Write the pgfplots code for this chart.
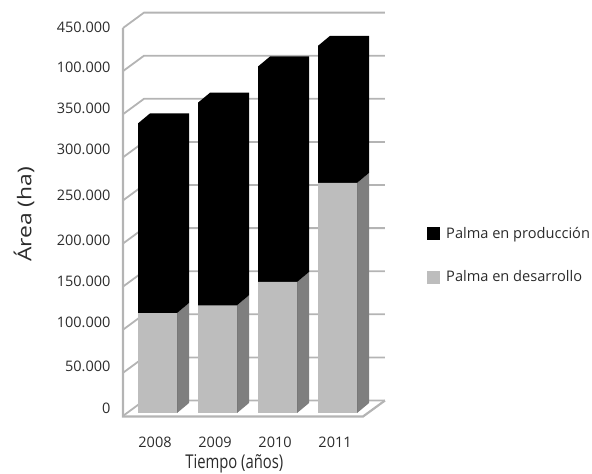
\documentclass[border=0pt]{standalone}
\usepackage{fontspec}
\setmainfont{Open Sans}
\usepackage{pgfplots}
\usepackage{pgfplotstable}
\pgfplotsset{compat=1.18}
\definecolor{wallgrey}{HTML}{B4B4B4}
\definecolor{barlight}{HTML}{BDBDBD}
\definecolor{barside}{HTML}{7F7F7F}
\definecolor{textgrey}{HTML}{2B2B2B}

% total = desarrollo + produccion
\pgfplotstableread{
pos anio desarrollo total
0 2008 116000 336000
1 2009 125000 360000
2 2010 152000 402000
3 2011 267000 426000
}\areatable

\begin{document}
\begin{tikzpicture}[x=1pt,y=1pt]
  \useasboundingbox (0,0) rectangle (592,474);
  \begin{axis}[
    at={(123pt,54pt)}, anchor=south west,
    scale only axis,
    width=262pt, height=415pt,
    xmin=-0.575, xmax=3.79,
    ymin=-8121, ymax=473329,
    clip=false,
    axis line style={draw=none},
    tick style={draw=none},
    scaled ticks=false,
    xtick={0,1,2,3},
    xticklabels={2008,2009,2010,2011},
    xticklabel style={font=\fontsize{14.5}{16}\selectfont, text=textgrey, yshift=-13pt, xshift=-2.5pt},
    % label positions follow the reference, slightly off the wall lines
    ytick={5500,54500,104800,152300,200700,252100,305500,353000,400600,447800},
    yticklabels={0,50.000,100.000,150.000,200.000,250.000,300.000,350.000,100.000,450.000},
    yticklabel style={font=\fontsize{14.5}{16}\selectfont, text=textgrey, anchor=east, xshift=-9pt},
    xlabel={\scalebox{0.78}[1]{Tiempo (años)}},
    ylabel={\scalebox{1.2}[1]{Área (ha)}},
    xlabel style={font=\fontsize{19}{21}\selectfont, text=textgrey, at={(axis cs:1.28,-8121)}, anchor=north, yshift=-31pt},
    ylabel style={font=\fontsize{19}{21}\selectfont, text=textgrey, at={(axis description cs:-0.378,0.495)}, anchor=center},
    legend style={at={(axis cs:4.49,183000)}, anchor=west, draw=none, fill=none,
      inner sep=0pt, font=\fontsize{14.6}{16}\selectfont, text=textgrey, row sep=27pt},
    legend cell align=left,
    legend image code/.code={\fill[draw=none,#1] (0pt,-6.5pt) rectangle (13pt,6.5pt);},
    no markers,
  ]
  % walls: left wall diagonal, back wall line
  \addplot[wallgrey, line width=1.8pt, forget plot] coordinates {(-0.575,-3400) (-0.225,14500) (3.79,14500)};
  \addplot[wallgrey, line width=1.8pt, forget plot] coordinates {(-0.575,46600) (-0.225,64500) (3.79,64500)};
  \addplot[wallgrey, line width=1.8pt, forget plot] coordinates {(-0.575,96600) (-0.225,114500) (3.79,114500)};
  \addplot[wallgrey, line width=1.8pt, forget plot] coordinates {(-0.575,146600) (-0.225,164500) (3.79,164500)};
  \addplot[wallgrey, line width=1.8pt, forget plot] coordinates {(-0.575,196600) (-0.225,214500) (3.79,214500)};
  \addplot[wallgrey, line width=1.8pt, forget plot] coordinates {(-0.575,246600) (-0.225,264500) (3.79,264500)};
  \addplot[wallgrey, line width=1.8pt, forget plot] coordinates {(-0.575,296600) (-0.225,314500) (3.79,314500)};
  \addplot[wallgrey, line width=1.8pt, forget plot] coordinates {(-0.575,346600) (-0.225,364500) (3.79,364500)};
  \addplot[wallgrey, line width=1.8pt, forget plot] coordinates {(-0.575,396600) (-0.225,414500) (3.79,414500)};
  \addplot[wallgrey, line width=1.8pt, forget plot] coordinates {(-0.575,446600) (-0.225,464500) (3.79,464500)};
  % front edge and floor
  \addplot[wallgrey, line width=2.2pt, forget plot] coordinates {(-0.575,446600) (-0.575,-4000) (3.425,-4000) (3.79,14500)};

  % bar sides and tops
  \addplot[draw=none, fill=barside, forget plot] coordinates {(0.325,0) (0.525,11600) (0.525,127600) (0.325,116000)};
  \addplot[draw=none, fill=barside, forget plot] coordinates {(1.325,0) (1.525,11600) (1.525,136600) (1.325,125000)};
  \addplot[draw=none, fill=barside, forget plot] coordinates {(2.325,0) (2.525,11600) (2.525,163600) (2.325,152000)};
  \addplot[draw=none, fill=barside, forget plot] coordinates {(3.325,0) (3.525,11600) (3.525,278600) (3.325,267000)};
  \addplot[draw=none, fill=black, forget plot] coordinates {(0.325,116000) (0.525,127600) (0.525,347600) (-0.125,347600) (-0.325,336000)};
  \addplot[draw=none, fill=black, forget plot] coordinates {(1.325,125000) (1.525,136600) (1.525,371600) (0.875,371600) (0.675,360000)};
  \addplot[draw=none, fill=black, forget plot] coordinates {(2.325,152000) (2.525,163600) (2.525,413600) (1.875,413600) (1.675,402000)};
  \addplot[draw=none, fill=black, forget plot] coordinates {(3.325,267000) (3.525,278600) (3.525,437600) (2.875,437600) (2.675,426000)};

  % bar fronts
  \addplot[ybar, bar width=39pt, bar shift=0pt, draw=none, fill=black, forget plot] table[x=pos,y=total] {\areatable};
  \addplot[ybar, bar width=39pt, bar shift=0pt, draw=none, fill=barlight, forget plot] table[x=pos,y=desarrollo] {\areatable};

  \addlegendimage{fill=black}
  \addlegendentry{\hspace{4pt}Palma en producción}
  \addlegendimage{fill=barlight}
  \addlegendentry{\hspace{4pt}Palma en desarrollo}
  \end{axis}
\end{tikzpicture}
\end{document}
